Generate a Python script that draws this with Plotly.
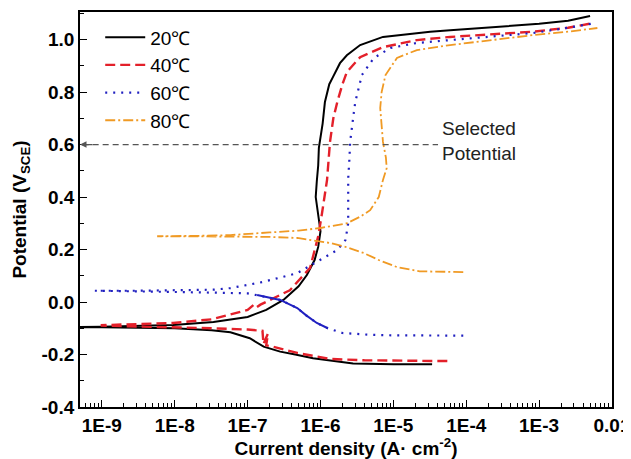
import plotly.graph_objects as go

# ---------------- data (current density A/cm2, potential V vs SCE) ----------------
i_20 = [3.4e-5, 1.0e-5, 2.8e-6, 1.6e-6, 7.9e-7, 4.5e-7, 2.8e-7, 1.66e-7, 1.07e-7, 5.8e-8, 3.2e-8, 1.0e-8, 3.2e-9, 1.0e-9, 5.0e-10,
        5.0e-10, 1.0e-9, 3.2e-9, 9.5e-9, 3.4e-8, 1.0e-7, 1.8e-7, 3.1e-7, 5.0e-7, 6.5e-7, 8.3e-7, 9.3e-7, 1.0e-6, 9.3e-7,
        8.6e-7, 8.9e-7, 9.3e-7, 9.5e-7, 1.07e-6, 1.15e-6, 1.32e-6, 1.48e-6, 1.6e-6, 1.85e-6, 2.3e-6, 3.5e-6, 7.2e-6,
        3.2e-5, 6.0e-5, 3.0e-4, 1.0e-3, 2.5e-3, 5.0e-3]
e_20 = [-0.237, -0.237, -0.234, -0.226, -0.214, -0.200, -0.189, -0.170, -0.138, -0.115, -0.108, -0.100, -0.097, -0.096, -0.096,
        -0.095, -0.094, -0.092, -0.088, -0.076, -0.057, -0.030, 0.008, 0.060, 0.103, 0.160, 0.210, 0.270, 0.330,
        0.400, 0.460, 0.520, 0.587, 0.680, 0.762, 0.830, 0.857, 0.876, 0.910, 0.940, 0.979, 1.010,
        1.030, 1.035, 1.050, 1.060, 1.072, 1.090]

i_40 = [5.5e-5, 1.0e-5, 4.0e-6, 1.35e-6, 4.8e-7, 2.2e-7, 1.8e-7, 1.9e-7, 1.65e-7, 1.6e-7, 1.0e-7, 3.2e-8, 1.0e-8, 3.2e-9, 1.0e-9,
        1.0e-9, 3.2e-9, 9.5e-9, 3.2e-8, 1.0e-7, 1.2e-7, 1.3e-7, 1.5e-7, 3.8e-7, 7.2e-7, 9.3e-7, 1.05e-6, 1.23e-6, 1.35e-6,
        1.5e-6, 1.7e-6, 2.0e-6, 2.3e-6, 3.5e-6, 7.2e-6, 2.1e-5, 6.0e-5, 8.3e-4, 2.5e-3, 5.5e-3]
e_40 = [-0.225, -0.224, -0.222, -0.217, -0.194, -0.170, -0.165, -0.120, -0.160, -0.110, -0.105, -0.100, -0.097, -0.093, -0.090,
        -0.088, -0.085, -0.080, -0.066, -0.030, -0.012, -0.022, -0.010, 0.045, 0.130, 0.250, 0.339, 0.465, 0.610,
        0.700, 0.762, 0.830, 0.876, 0.933, 0.971, 0.998, 1.010, 1.030, 1.045, 1.063]

i_60 = [9.1e-5, 3.2e-5, 1.0e-5, 4.8e-6, 2.0e-6, 1.26e-6, 8.9e-7, 6.3e-7, 4.8e-7, 2.8e-7, 1.35e-7, 1.0e-7, 3.2e-8, 1.0e-8, 3.2e-9, 8.0e-10,
        8.0e-10, 3.2e-9, 1.0e-8, 3.4e-8, 5.8e-8, 1.0e-7, 1.6e-7, 4.8e-7, 8.9e-7, 1.7e-6, 2.2e-6, 2.4e-6, 2.4e-6, 2.4e-6,
        2.5e-6, 2.55e-6, 2.8e-6, 3.0e-6, 3.7e-6, 5.4e-6, 9.1e-6, 2.1e-5, 6.0e-5, 8.3e-4, 2.5e-3, 5.9e-3]
e_60 = [-0.128, -0.128, -0.127, -0.125, -0.118, -0.100, -0.080, -0.050, -0.023, 0.008, 0.027, 0.033, 0.036, 0.038, 0.040, 0.042,
        0.043, 0.043, 0.044, 0.047, 0.053, 0.065, 0.076, 0.110, 0.152, 0.198, 0.236, 0.300, 0.400, 0.470,
        0.550, 0.610, 0.700, 0.762, 0.865, 0.930, 0.968, 0.987, 0.998, 1.025, 1.045, 1.063]

i_80 = [9.1e-5, 2.3e-5, 1.12e-5, 6.3e-6, 3.9e-6, 2.2e-6, 1.35e-6, 7.9e-7, 4.8e-7, 2.0e-7, 5.8e-8, 2.0e-8, 5.9e-9,
        5.9e-9, 2.0e-8, 5.8e-8, 2.0e-7, 5.0e-7, 1.0e-6, 2.3e-6, 3.5e-6, 4.8e-6, 6.3e-6, 7.2e-6, 8.1e-6, 7.9e-6, 7.2e-6,
        6.8e-6, 6.6e-6, 6.9e-6, 7.8e-6, 1.12e-5, 2.1e-5, 6.0e-5, 8.3e-4, 2.5e-3, 6.3e-3]
e_80 = [0.114, 0.117, 0.133, 0.160, 0.187, 0.210, 0.225, 0.236, 0.244, 0.248, 0.250, 0.250, 0.250,
        0.251, 0.252, 0.255, 0.265, 0.272, 0.282, 0.300, 0.325, 0.350, 0.400, 0.465, 0.510, 0.550, 0.610,
        0.680, 0.739, 0.800, 0.865, 0.930, 0.960, 0.979, 1.017, 1.030, 1.044]

series_names = ["20\u2103", "40\u2103", "60\u2103", "80\u2103"]
x_tickvals = [1e-9, 1e-8, 1e-7, 1e-6, 1e-5, 1e-4, 1e-3, 1e-2]
x_ticktext = ["1E-9", "1E-8", "1E-7", "1E-6", "1E-5", "1E-4", "1E-3", "0.01"]
y_tickvals = [-0.4, -0.2, 0.0, 0.2, 0.4, 0.6, 0.8, 1.0]
y_ticktext = ["-0.4", "-0.2", "0.0", "0.2", "0.4", "0.6", "0.8", "1.0"]
selected_potential = 0.6

# ---------------- figure ----------------
# the page body has an 8px default margin, so the figure is 8px smaller than the window
FONT = "Liberation Sans, Arial, sans-serif"
styles = [
    dict(color="#000000", width=2.0, dash="solid"),
    dict(color="#e3202a", width=2.4, dash="10px,5px"),
    dict(color="#2020c0", width=2.2, dash="2px,6px"),
    dict(color="#f09a24", width=1.8, dash="10px,3px,2px,3px"),
]
xs = [i_20, i_40, i_60, i_80]
ys = [e_20, e_40, e_60, e_80]

fig = go.Figure()
for name, x, y, st in zip(series_names, xs, ys, styles):
    fig.add_trace(go.Scatter(x=x, y=y, mode="lines", name=name, line=st))

# densely sampled part of the 60 C cathodic branch appears as a continuous line
fig.add_trace(go.Scatter(x=i_60[5:11], y=e_60[5:11], mode="lines", showlegend=False,
                         line=dict(color="#2020c0", width=2.0)))

minor_x = [m * 10.0 ** d for d in range(-10, -2) for m in range(2, 10)]

fig.update_layout(
    width=623, height=451,
    margin=dict(l=72, r=19, t=4, b=52),
    paper_bgcolor="white", plot_bgcolor="white",
    font=dict(family=FONT, color="#000"),
    showlegend=True,
    legend=dict(x=0.038, y=0.984, xanchor="left", yanchor="top",
                bgcolor="rgba(0,0,0,0)", borderwidth=0,
                font=dict(size=19, family=FONT),
                itemwidth=40, tracegroupgap=0),
    xaxis=dict(type="log", range=[-9.3, -2.0], automargin=False,
               tickmode="array", tickvals=x_tickvals, ticktext=x_ticktext,
               ticks="inside", ticklen=7, tickwidth=1.3, tickcolor="#000",
               minor=dict(tickmode="array", tickvals=minor_x, ticks="inside", ticklen=4, tickwidth=1, tickcolor="#000"),
               showline=True, linecolor="#000", linewidth=1.8, mirror=True,
               showgrid=False, zeroline=False,
               tickfont=dict(size=19, weight="bold"),
               title=dict(text="Current density (A\u00b7 cm<sup>-2</sup>)", font=dict(size=19, weight="bold"), standoff=0)),
    yaxis=dict(range=[-0.4, 1.105], automargin=False,
               tickmode="array", tickvals=y_tickvals, ticktext=y_ticktext,
               ticks="inside", ticklen=7, tickwidth=1.3, tickcolor="#000",
               minor=dict(dtick=0.1, tick0=-0.4, ticks="inside", ticklen=4, tickwidth=1, tickcolor="#000"),
               showline=True, linecolor="#000", linewidth=1.8, mirror=True,
               showgrid=False, zeroline=False,
               tickfont=dict(size=19, weight="bold"),
               title=dict(text="Potential (V<sub>SCE</sub>)", font=dict(size=19, weight="bold"), standoff=10)),
)

# selected potential dashed line with arrow toward the axis
fig.add_shape(type="line", xref="paper", yref="y", x0=0.005, x1=0.673,
              y0=selected_potential, y1=selected_potential,
              line=dict(color="#555555", width=1.3, dash="6px,4px"))
fig.add_annotation(xref="paper", yref="y", x=0.0, y=selected_potential,
                   ax=14, ay=0, axref="pixel", ayref="pixel", text="",
                   showarrow=True, arrowhead=2, arrowsize=1, arrowwidth=1.3, arrowcolor="#555555")
fig.add_annotation(xref="paper", yref="y", x=0.677, y=selected_potential,
                   xanchor="left", yanchor="middle", align="left", yshift=4,
                   text="Selected<br>Potential", showarrow=False,
                   font=dict(size=19, color="#222"))

fig.write_html("out.html")
